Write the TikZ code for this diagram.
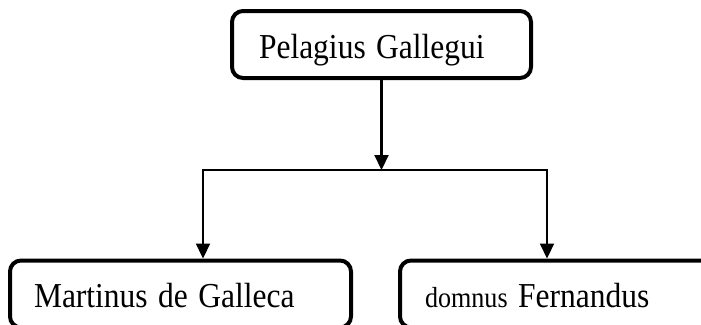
\documentclass[tikz,border=0pt]{standalone}
\usepackage{fontspec}
\usepackage{graphicx}
\setmainfont{Liberation Serif}
\usetikzlibrary{arrows.meta, calc}

% narrow type, as in the source
\newcommand{\narrowtext}[1]{\scalebox{0.9}[1]{#1}}

\begin{document}
\begin{tikzpicture}[>={Triangle[length=15pt, width=14pt]}, x=1pt, y=1pt,
    person/.style={draw, line width=4pt, rounded corners=11pt, minimum height=67pt,
        inner ysep=0pt, text height=34pt, text depth=7pt, align=left,
        font=\fontsize{35}{40}\selectfont},
    link/.style={line width=2.2pt}]
    % Frame
    \useasboundingbox (0,0) rectangle (701,-324);
    \clip (0,0) rectangle (701,-324);
    % Parent
    \node[person, inner xsep=27pt, text width=245pt] (pelagius) at (381.5,-44.5)
        {\narrowtext{Pelagius Gallegui}};
    % Children
    \node[person, inner xsep=24pt, text width=293pt] (martinus) at (180.5,-294)
        {\narrowtext{Martinus de Galleca}};
    \node[person, inner xsep=25pt, text width=291pt] (fernandus) at (570.5,-294)
        {\narrowtext{{\fontsize{29}{34}\selectfont domnus} Fernandus}};
    % Branch points
    \coordinate (split) at (pelagius.south |- 0,-170);
    \coordinate (lbranch) at (203,-170);
    \coordinate (rbranch) at (547,-170);
    % Connectors
    \draw[link, ->] (pelagius.south) -- (split);
    \draw[link, <->] (lbranch |- martinus.north) -- (lbranch) -- (rbranch) -- (rbranch |- fernandus.north);
\end{tikzpicture}
\end{document}
